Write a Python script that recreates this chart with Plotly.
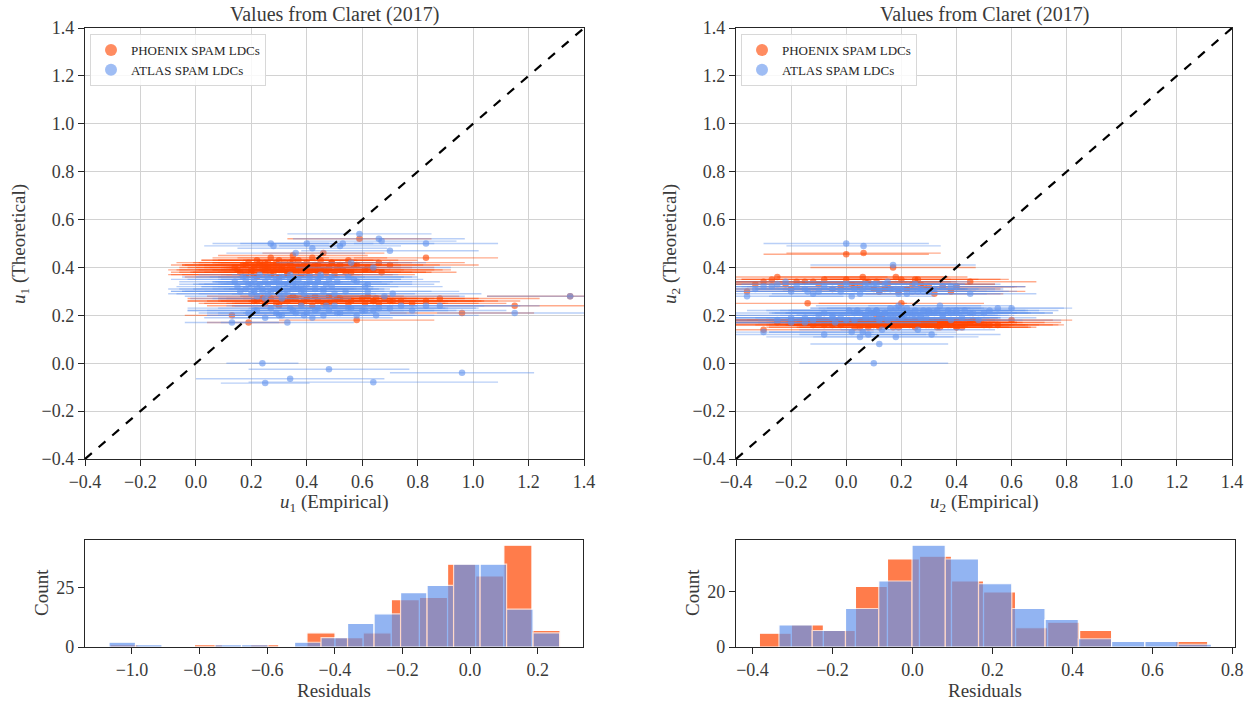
import plotly.graph_objects as go

# ---------------- star data (empirical vs theoretical LDCs) ----------------
emp_u1 = [0.14,0.16,0.17,0.18,0.19,0.20,0.21,0.22,0.22,0.23,
          0.24,0.25,0.25,0.26,0.27,0.27,0.28,0.29,0.30,0.30,
          0.31,0.32,0.33,0.34,0.35,0.35,0.36,0.37,0.38,0.39,
          0.40,0.40,0.41,0.42,0.43,0.44,0.45,0.46,0.47,0.48,
          0.49,0.50,0.52,0.53,0.55,0.56,0.58,0.59,0.62,0.64,
          0.66,0.67,0.70,0.83,0.24,0.31,0.37,0.45,0.29,0.20,
          0.13,0.19,0.22,0.25,0.27,0.30,0.33,0.35,0.38,0.40,
          0.42,0.44,0.46,0.48,0.50,0.52,0.55,0.58,0.60,0.62,
          0.64,0.66,0.68,0.71,0.74,0.83,0.96,1.15,1.35,0.36,
          0.24,0.48,0.34,0.25,0.64,
          0.15,0.18,0.21,0.23,0.26,0.28,0.30,0.32,0.34,0.36,0.38,0.41,0.43,
          0.46,0.49,0.51,0.54,0.57,0.61,0.26,0.33,0.39,0.44,0.21,0.28,0.35,
          0.21,0.29,0.34,0.39,0.43,0.47,0.51,0.56,0.61,0.65,0.70,0.78,0.88,0.31]
emp_u1_err = [0.20,0.25,0.22,0.28,0.18,0.30,0.24,0.20,0.26,0.22,
              0.30,0.19,0.27,0.23,0.21,0.32,0.25,0.20,0.28,0.22,
              0.26,0.24,0.30,0.21,0.27,0.23,0.25,0.29,0.22,0.26,
              0.24,0.30,0.20,0.27,0.25,0.23,0.28,0.22,0.31,0.26,
              0.24,0.29,0.22,0.33,0.25,0.27,0.30,0.26,0.24,0.28,
              0.31,0.27,0.32,0.26,0.28,0.25,0.27,0.30,0.23,0.26,
              0.17,0.15,0.25,0.22,0.30,0.26,0.24,0.31,0.27,0.23,
              0.29,0.25,0.33,0.27,0.30,0.24,0.35,0.28,0.26,0.33,
              0.30,0.36,0.29,0.32,0.30,0.34,0.26,0.28,0.30,0.28,
              0.13,0.29,0.34,0.16,0.45,
              0.22,0.27,0.30,0.24,0.26,0.29,0.23,0.31,0.25,0.28,0.22,0.30,0.26,
              0.24,0.29,0.27,0.31,0.25,0.28,0.33,0.24,0.27,0.30,0.26,0.22,0.29,
              0.24,0.28,0.26,0.31,0.27,0.33,0.29,0.35,0.30,0.37,0.31,0.34,0.36,0.27]
phx_u1 = [0.40,0.38,0.41,0.37,0.42,0.39,0.40,0.43,0.36,0.41,
          0.39,0.42,0.38,0.40,0.44,0.37,0.41,0.39,0.43,0.36,
          0.40,0.42,0.38,0.41,0.45,0.39,0.40,0.43,0.37,0.41,
          0.42,0.38,0.40,0.44,0.39,0.41,0.43,0.46,0.38,0.40,
          0.42,0.37,0.41,0.39,0.43,0.38,0.41,0.52,0.40,0.39,
          0.42,0.38,0.41,0.44,0.41,0.39,0.40,0.39,0.42,0.38,
          0.20,0.17,0.26,0.25,0.27,0.24,0.26,0.28,0.25,0.27,
          0.24,0.26,0.25,0.28,0.26,0.27,0.25,0.18,0.27,0.28,
          0.26,0.25,0.27,0.26,0.26,0.26,0.21,0.24,0.28,0.27,
          0.27,0.25,0.39,0.40,0.26,
          0.39,0.41,0.37,0.42,0.40,0.38,0.41,0.39,0.42,0.38,0.40,0.37,0.41,
          0.39,0.42,0.40,0.38,0.41,0.39,0.42,0.37,0.40,0.38,0.41,0.39,0.43,
          0.26,0.25,0.27,0.26,0.28,0.25,0.27,0.26,0.25,0.27,0.26,0.25,0.27,0.26]
atl_u1 = [0.34,0.30,0.36,0.31,0.33,0.29,0.35,0.32,0.28,0.37,
          0.31,0.34,0.27,0.33,0.50,0.30,0.49,0.35,0.32,0.29,
          0.36,0.33,0.30,0.37,0.34,0.31,0.46,0.35,0.32,0.29,
          0.50,0.33,0.36,0.48,0.31,0.34,0.37,0.30,0.33,0.35,
          0.32,0.29,0.49,0.50,0.36,0.42,0.34,0.54,0.33,0.40,
          0.52,0.51,0.47,0.50,0.30,0.27,0.31,0.36,0.31,0.33,
          0.17,0.21,0.22,0.19,0.23,0.20,0.17,0.22,0.24,0.21,
          0.19,0.23,0.20,0.22,0.24,0.21,0.23,0.20,0.22,0.30,
          0.22,0.23,0.28,0.29,0.24,0.24,-0.04,0.21,0.28,0.21,
          0.00,-0.025,-0.065,-0.083,-0.079,
          0.32,0.35,0.30,0.33,0.36,0.31,0.34,0.29,0.35,0.32,0.30,0.34,0.33,
          0.31,0.36,0.34,0.30,0.35,0.32,0.29,0.33,0.31,0.35,0.30,0.34,0.32,
          0.22,0.21,0.23,0.20,0.22,0.24,0.21,0.23,0.22,0.20,0.23,0.22,0.24,0.20]

emp_u2 = [0.12,-0.05,0.25,0.08,0.30,-0.12,0.18,0.02,0.40,0.15,
          0.22,-0.20,0.10,0.35,0.05,0.28,-0.02,0.45,0.13,0.20,
          0.00,0.33,0.16,-0.08,0.24,0.50,0.09,0.19,-0.15,0.37,
          0.06,0.27,0.14,0.42,-0.25,0.11,0.31,0.21,0.03,0.55,
          0.17,0.26,-0.10,0.08,0.38,0.23,0.60,0.12,-0.30,0.29,
          0.04,0.46,0.15,0.34,0.07,0.20,0.52,-0.04,0.18,0.10,
          -0.36,-0.25,-0.18,-0.10,-0.05,0.00,0.05,0.08,0.12,0.15,
          0.18,0.22,0.25,0.28,0.32,-0.30,-0.14,0.02,0.10,0.20,
          0.30,0.38,0.45,-0.22,0.06,0.14,0.26,0.35,-0.12,0.17,
          0.00,0.063,0.10,0.12,0.20,
          0.05,0.22,-0.15,0.30,0.12,0.40,-0.05,0.18,0.27,0.09,0.35,0.01,0.48,
          0.14,-0.20,0.25,0.11,0.32,0.07,0.20,-0.08,0.43,0.16,0.03,0.38,0.13,
          -0.33,-0.20,-0.08,0.03,0.11,0.19,0.27,-0.27,-0.02,0.07,0.16,0.24,0.40,-0.15]
emp_u2_err = [0.30,0.28,0.35,0.25,0.32,0.38,0.27,0.30,0.26,0.33,
              0.29,0.36,0.31,0.24,0.34,0.28,0.40,0.27,0.30,0.35,
              0.32,0.26,0.29,0.37,0.31,0.25,0.33,0.30,0.42,0.28,
              0.34,0.29,0.36,0.27,0.38,0.31,0.25,0.33,0.30,0.24,
              0.35,0.28,0.39,0.32,0.26,0.34,0.22,0.30,0.40,0.27,
              0.33,0.29,0.36,0.26,0.31,0.35,0.25,0.37,0.30,0.32,
              0.35,0.40,0.30,0.33,0.28,0.38,0.32,0.27,0.35,0.30,
              0.26,0.34,0.31,0.29,0.25,0.42,0.36,0.30,0.33,0.28,
              0.32,0.27,0.24,0.37,0.31,0.29,0.33,0.26,0.35,0.30,
              0.30,0.28,0.27,0.25,0.30,
              0.33,0.28,0.36,0.30,0.34,0.27,0.39,0.31,0.29,0.35,0.26,0.37,0.30,
              0.33,0.41,0.28,0.32,0.30,0.36,0.29,0.38,0.27,0.34,0.31,0.28,0.35,
              0.38,0.33,0.30,0.36,0.29,0.32,0.27,0.40,0.34,0.31,0.28,0.30,0.25,0.37]
phx_u2 = [0.17,0.16,0.18,0.15,0.17,0.16,0.18,0.17,0.15,0.16,
          0.17,0.18,0.16,0.17,0.15,0.18,0.16,0.17,0.19,0.16,
          0.17,0.15,0.18,0.16,0.17,0.16,0.18,0.15,0.17,0.16,
          0.18,0.17,0.16,0.15,0.17,0.19,0.16,0.18,0.17,0.16,
          0.15,0.17,0.18,0.16,0.17,0.16,0.18,0.17,0.14,0.16,
          0.17,0.18,0.16,0.15,0.17,0.19,0.16,0.18,0.17,0.16,
          0.30,0.36,0.34,0.33,0.31,0.35,0.32,0.34,0.30,0.33,
          0.36,0.31,0.35,0.32,0.29,0.34,0.25,0.33,0.31,0.35,
          0.32,0.30,0.34,0.33,0.36,0.31,0.35,0.32,0.34,0.40,
          0.455,0.46,0.17,0.15,0.25,
          0.16,0.17,0.18,0.16,0.17,0.15,0.17,0.18,0.16,0.17,0.16,0.18,0.17,
          0.16,0.17,0.15,0.18,0.17,0.16,0.17,0.18,0.16,0.17,0.15,0.16,0.17,
          0.33,0.31,0.35,0.32,0.34,0.30,0.33,0.35,0.32,0.34,0.31,0.33,0.32,0.34]
atl_u2 = [0.20,0.19,0.22,0.12,0.21,0.18,0.20,0.13,0.22,0.19,
          0.23,0.17,0.21,0.20,0.11,0.22,0.19,0.21,0.14,0.20,
          0.18,0.22,0.23,0.12,0.20,0.21,0.19,0.24,0.17,0.22,
          0.13,0.20,0.21,0.19,0.18,0.22,0.12,0.20,0.21,0.23,
          0.19,0.14,0.20,0.22,0.18,0.21,0.23,0.20,0.13,0.19,
          0.22,0.21,0.18,0.24,0.20,0.19,0.22,0.17,0.11,0.21,
          0.28,0.33,0.32,0.30,0.31,0.33,0.29,0.32,0.30,0.34,
          0.31,0.29,0.33,0.30,0.31,0.32,0.30,0.28,0.33,0.31,
          0.30,0.32,0.29,0.34,0.31,0.33,0.30,0.32,0.29,0.41,
          0.50,0.49,0.00,0.08,0.23,
          0.21,0.20,0.19,0.22,0.18,0.21,0.20,0.23,0.19,0.21,0.20,0.22,0.18,
          0.21,0.19,0.20,0.22,0.21,0.19,0.20,0.21,0.22,0.20,0.18,0.21,0.19,
          0.31,0.30,0.32,0.31,0.33,0.29,0.31,0.32,0.30,0.33,0.31,0.30,0.32,0.31]

diag = [-0.4, 1.4]

# ---------------- residual histograms (counts) ----------------
h1_phx_start, h1_phx_width = -1.065, 0.0832
h1_phx_counts = [1,0,0,1,0,1,0,6,4,6,20,21,35,30,43,7]
h1_atl_start, h1_atl_width = -1.068, 0.0784
h1_atl_counts = [2,1,0,0,1,1,0,2,4,10,14,23,26,35,35,16,6]
h2_phx_start, h2_phx_width = -0.383, 0.0801
h2_phx_counts = [5,8,6,22,32,33,24,20,7,9,6,0,0,2]
h2_atl_start, h2_atl_width = -0.334, 0.0832
h2_atl_counts = [8,6,14,24,37,32,23,14,10,3,2,2,1]

ORANGE = "255,69,0"
BLUE = "100,149,237"
FONT = "Liberation Serif"
TXT = "#262626"
W, H = 1256, 706

def px(x):
    return x / W

def py(y):
    return 1 - y / H

fig = go.Figure()

def scatter(x, y, ex, rgb, name, xa, ya, legend, show):
    fig.add_trace(go.Scatter(
        x=x, y=y, mode="markers", name=name,
        marker=dict(size=6.5, color=f"rgba({rgb},0.62)", line=dict(width=0)),
        error_x=dict(type="data", array=ex, visible=True, thickness=1.4,
                     width=0, color=f"rgba({rgb},0.45)"),
        xaxis=xa, yaxis=ya, legend=legend, showlegend=show))

scatter(emp_u1, phx_u1, emp_u1_err, ORANGE, "PHOENIX SPAM LDCs", "x", "y", "legend", True)
scatter(emp_u1, atl_u1, emp_u1_err, BLUE, "ATLAS SPAM LDCs", "x", "y", "legend", True)
scatter(emp_u2, phx_u2, emp_u2_err, ORANGE, "PHOENIX SPAM LDCs", "x2", "y2", "legend2", True)
scatter(emp_u2, atl_u2, emp_u2_err, BLUE, "ATLAS SPAM LDCs", "x2", "y2", "legend2", True)

for xa, ya in (("x", "y"), ("x2", "y2")):
    fig.add_trace(go.Scatter(x=diag, y=diag, mode="lines",
                             line=dict(color="black", width=2.2, dash="dash"),
                             xaxis=xa, yaxis=ya, showlegend=False, hoverinfo="skip"))

def hist(start, width, counts, rgb, xa, ya):
    centers = [start + width * (i + 0.5) for i in range(len(counts))]
    fig.add_trace(go.Bar(x=centers, y=counts, width=width,
                         marker=dict(color=f"rgb({rgb})", line=dict(color="white", width=1.2)),
                         opacity=0.7, xaxis=xa, yaxis=ya, showlegend=False))

hist(h1_phx_start, h1_phx_width, h1_phx_counts, ORANGE, "x3", "y3")
hist(h1_atl_start, h1_atl_width, h1_atl_counts, BLUE, "x3", "y3")
hist(h2_phx_start, h2_phx_width, h2_phx_counts, ORANGE, "x4", "y4")
hist(h2_atl_start, h2_atl_width, h2_atl_counts, BLUE, "x4", "y4")

ax = dict(showline=True, mirror=True, linecolor=TXT, linewidth=1.3,
          ticks="outside", ticklen=6, tickwidth=1.3, tickcolor=TXT, automargin=False,
          zeroline=False, tickfont=dict(family=FONT, size=18, color="#3a3a3a"))
grid = dict(showgrid=True, gridcolor="#d2d2d2", gridwidth=1.3)

top_y = [py(459), py(28)]
bot_y = [py(647), py(540)]

fig.update_layout(
    width=W, height=H, margin=dict(l=0, r=0, t=0, b=0, autoexpand=False),
    plot_bgcolor="white", paper_bgcolor="white", barmode="overlay",
    font=dict(family=FONT, color=TXT),
    xaxis=dict(domain=[px(85), px(584)], range=[-0.4, 1.4], dtick=0.2, tick0=0,
               tickformat=".1f", anchor="y", **ax, **grid),
    yaxis=dict(domain=top_y, range=[-0.4, 1.4], dtick=0.2, tick0=0,
               tickformat=".1f", anchor="x", **ax, **grid),
    xaxis2=dict(domain=[px(736), px(1232)], range=[-0.4, 1.4], dtick=0.2, tick0=0,
                tickformat=".1f", anchor="y2", **ax, **grid),
    yaxis2=dict(domain=top_y, range=[-0.4, 1.4], dtick=0.2, tick0=0,
                tickformat=".1f", anchor="x2", **ax, **grid),
    xaxis3=dict(domain=[px(85), px(583)], range=[-1.139, 0.334], dtick=0.2, tick0=0,
                tickformat=".1f", anchor="y3", showgrid=False, **ax),
    yaxis3=dict(domain=bot_y, range=[0, 45.2], tickvals=[0, 25], anchor="x3",
                showgrid=False, **ax),
    xaxis4=dict(domain=[px(736), px(1235)], range=[-0.4414, 0.8066], dtick=0.2, tick0=0,
                tickformat=".1f", anchor="y4", showgrid=False, **ax),
    yaxis4=dict(domain=bot_y, range=[0, 38.9], tickvals=[0, 20], anchor="x4",
                showgrid=False, **ax),
    legend=dict(x=px(90), y=py(34), xanchor="left", yanchor="top",
                bgcolor="rgba(255,255,255,0.85)", bordercolor="#d8d8d8", borderwidth=1,
                font=dict(family=FONT, size=13, color=TXT), itemsizing="constant",
                tracegroupgap=0),
    legend2=dict(x=px(741), y=py(34), xanchor="left", yanchor="top",
                 bgcolor="rgba(255,255,255,0.85)", bordercolor="#d8d8d8", borderwidth=1,
                 font=dict(family=FONT, size=13, color=TXT), itemsizing="constant",
                 tracegroupgap=0),
)

def note(text, x, y, size=19, angle=0):
    fig.add_annotation(text=text, x=x, y=y, xref="paper", yref="paper",
                       showarrow=False, textangle=angle, xanchor="center", yanchor="middle",
                       font=dict(family=FONT, size=size, color="#3a3a3a"))

note("Values from Claret (2017)", px(334), py(14), size=20)
note("Values from Claret (2017)", px(984), py(14), size=20)
note("<i>u</i><sub>1</sub> (Empirical)", px(334), py(503))
note("<i>u</i><sub>2</sub> (Empirical)", px(984), py(503))
note("<i>u</i><sub>1</sub> (Theoretical)", px(20), py(244), angle=-90)
note("<i>u</i><sub>2</sub> (Theoretical)", px(671), py(244), angle=-90)
note("Residuals", px(334), py(690))
note("Residuals", px(985), py(690))
note("Count", px(41), py(593), angle=-90)
note("Count", px(692), py(593), angle=-90)

fig.write_html("out.html")
